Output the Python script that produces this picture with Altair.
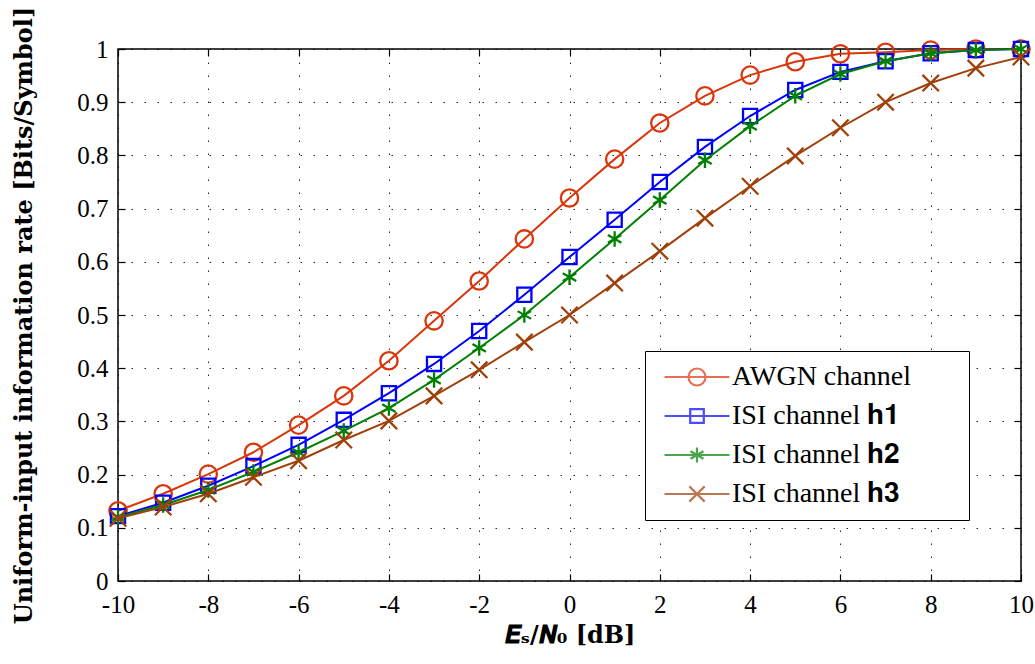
import altair as alt
import pandas as pd

# ---- data ----
snr_db = [-10, -9, -8, -7, -6, -5, -4, -3, -2, -1, 0, 1, 2, 3, 4, 5, 6, 7, 8, 9, 10]
awgn = [0.132, 0.164, 0.201, 0.242, 0.293, 0.348, 0.414, 0.489, 0.564, 0.643, 0.720,
        0.793, 0.861, 0.912, 0.951, 0.976, 0.991, 0.994, 0.998, 1.0, 1.0]
isi_h1 = [0.122, 0.147, 0.179, 0.216, 0.256, 0.303, 0.353, 0.408, 0.470, 0.538, 0.609,
          0.679, 0.750, 0.816, 0.874, 0.923, 0.957, 0.977, 0.992, 0.998, 1.0]
isi_h2 = [0.120, 0.143, 0.171, 0.205, 0.242, 0.282, 0.325, 0.378, 0.438, 0.500, 0.571,
          0.643, 0.716, 0.791, 0.855, 0.912, 0.953, 0.977, 0.992, 0.998, 1.0]
isi_h3 = [0.118, 0.139, 0.164, 0.195, 0.226, 0.265, 0.301, 0.348, 0.397, 0.449, 0.500,
          0.560, 0.620, 0.682, 0.742, 0.799, 0.852, 0.900, 0.936, 0.964, 0.985]

series_names = ["AWGN channel", "ISI channel 𝐡𝟏", "ISI channel 𝐡𝟐", "ISI channel 𝐡𝟑"]
series_values = [awgn, isi_h1, isi_h2, isi_h3]

x_ticks = [-10, -8, -6, -4, -2, 0, 2, 4, 6, 8, 10]
y_ticks = [0, 0.1, 0.2, 0.3, 0.4, 0.5, 0.6, 0.7, 0.8, 0.9, 1]

x_title = "𝑬ₛ/𝑵₀ [dB]"
y_title = "Uniform-input information rate [Bits/Symbol]"

# ---- styles ----
colors = ["#D9360B", "#0000FF", "#008000", "#A0400A"]
marker_shapes = [
    "circle",
    "square",
    "M0,-1L0,1M-0.87,-0.5L0.87,0.5M-0.87,0.5L0.87,-0.5",
    "M-1,-1L1,1M1,-1L-1,1",
]
marker_sizes = [300, 200, 240, 270]
# legend glyphs: a line segment with the marker in the middle (nominal box = marker)
legend_shapes = [
    "M-3.82,0L3.82,0M-1,0A1,1,0,1,0,1,0A1,1,0,1,0,-1,0",
    "M-3.82,0L3.82,0M-0.8,-0.8L0.8,-0.8L0.8,0.8L-0.8,0.8Z",
    "M-3.82,0L3.82,0M0,-0.88L0,0.88M-0.76,-0.44L0.76,0.44M-0.76,0.44L0.76,-0.44",
    "M-3.82,0L3.82,0M-0.9,-0.9L0.9,0.9M-0.9,0.9L0.9,-0.9",
]

FONT = "Liberation Serif"
TITLE_FONT = "DejaVu Serif"

rows = []
for name, vals in zip(series_names, series_values):
    for xv, yv in zip(snr_db, vals):
        rows.append({"series": name, "x": xv, "y": yv})
df = pd.DataFrame(rows)
dummy = pd.DataFrame({"series": series_names, "x": [None] * 4, "y": [None] * 4})

xs = alt.Scale(domain=[-10, 10], nice=False, zero=False)
ys = alt.Scale(domain=[0, 1], nice=False, zero=False)


def axis_layer(xaxis, yaxis):
    return alt.Chart(dummy).mark_point(opacity=0).encode(
        x=alt.X("x:Q", scale=xs, axis=xaxis),
        y=alt.Y("y:Q", scale=ys, axis=yaxis),
    )


grid_common = dict(grid=True, gridDash=[1.5, 11.5], gridColor="#000000", gridOpacity=0.85,
                   gridWidth=1, ticks=False, labels=False, domain=False, title=None)
grid_layer = axis_layer(
    alt.Axis(orient="bottom", values=x_ticks, **grid_common),
    alt.Axis(orient="left", values=y_ticks, **grid_common),
)

tick_common = dict(grid=False, domain=False, tickSize=7, tickWidth=1.2, tickColor="#000000",
                   offset=-7)
label_layer = axis_layer(
    alt.Axis(orient="bottom", values=x_ticks, labelExpr="'' + datum.value",
             labelFont=FONT, labelFontSize=25, labelColor="#000000", labelPadding=11,
             labelFlush=False,
             title=x_title, titleFont=TITLE_FONT, titleFontSize=24, titleFontWeight="bold",
             titleColor="#000000", titlePadding=6, **tick_common),
    alt.Axis(orient="left", values=y_ticks, labelExpr="'' + datum.value",
             labelFont=FONT, labelFontSize=25, labelColor="#000000", labelPadding=10,
             labelFlush=False,
             title=y_title, titleFont=TITLE_FONT, titleFontSize=24, titleFontWeight="bold",
             titleColor="#000000", titlePadding=40, **tick_common),
)
mirror_layer = axis_layer(
    alt.Axis(orient="top", values=x_ticks, labels=False, title=None, **tick_common),
    alt.Axis(orient="right", values=y_ticks, labels=False, title=None, **tick_common),
)

series_layers = []
for name, c, shp, sz in zip(series_names, colors, marker_shapes, marker_sizes):
    base = alt.Chart(df).transform_filter(alt.datum.series == name)
    enc = dict(x=alt.X("x:Q", scale=xs, axis=None), y=alt.Y("y:Q", scale=ys, axis=None))
    series_layers.append(base.mark_line(color=c, strokeWidth=2).encode(**enc))
    series_layers.append(
        base.mark_point(shape=shp, size=sz, filled=False, color=c, strokeWidth=2.3,
                        opacity=1).encode(**enc))

legend_props = dict(orient="none", legendX=527, legendY=302, padding=12,
                    title="\u00a0", titleOrient="right", titlePadding=46, titleFontSize=8,
                    strokeColor="#000000", fillColor="#FFFFFF", cornerRadius=0,
                    labelFont=FONT, labelFontSize=28, labelColor="#000000",
                    labelLimit=500,
                    symbolSize=289, symbolStrokeWidth=2.2, symbolOffset=26,
                    labelOffset=21, rowPadding=11)
legend_layer = alt.Chart(dummy).mark_point(filled=False, size=289, strokeWidth=2.2).encode(
    x=alt.X("x:Q", scale=xs, axis=None),
    y=alt.Y("y:Q", scale=ys, axis=None),
    color=alt.Color("series:N", scale=alt.Scale(domain=series_names, range=colors),
                    legend=alt.Legend(**legend_props)),
    shape=alt.Shape("series:N", scale=alt.Scale(domain=series_names, range=legend_shapes),
                    legend=alt.Legend(**legend_props)),
)

chart = alt.layer(
    grid_layer, *series_layers, label_layer, mirror_layer, legend_layer
).resolve_axis(x="independent", y="independent").properties(
    width=903, height=532,
    autosize=alt.AutoSizeParams(type="none"),
    padding={"left": 118, "top": 49, "right": 14, "bottom": 83},
    background="#FFFFFF",
).configure_view(stroke="#000000", strokeWidth=1.5)

chart.save("out.html", embed_options={"renderer": "svg", "actions": False})
